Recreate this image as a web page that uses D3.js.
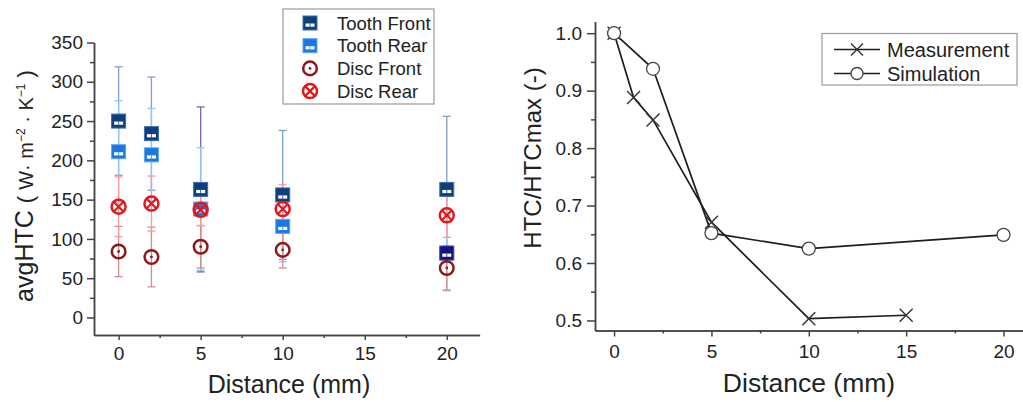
<!DOCTYPE html>
<html>
<head>
<meta charset="utf-8">
<script src="https://cdn.jsdelivr.net/npm/d3@7"></script>
<style>
  body { margin: 0; background: #fff; }
  text { font-family: "Liberation Sans", Arial, sans-serif; fill: #222; }
</style>
</head>
<body>
<div id="graph"></div>
<script>
// ---- left chart data: avgHTC with error bars ----
const distances = [0, 2, 5, 10, 20]
const toothFront = [250, 234, 163, 156, 163]
const toothFrontErr = [69, 72, 105, 82, 93]
const toothRear = [211, 207, 138, 116, 82]
const toothRearErr = [65, 59, 78, 45, 48]
const discFront = [84, 77, 90, 86, 63]
const discFrontErr = [32, 38, 27, 23, 28]
const discRear = [141, 145, 137, 138, 130]
const discRearErr = [38, 35, 20, 31, 28]
const leftYTicks = [0, 50, 100, 150, 200, 250, 300, 350]
const xTicks = [0, 5, 10, 15, 20]

// ---- right chart data: normalised HTC ----
const measX = [0, 1, 2, 5, 10, 15]
const measY = [1.0, 0.888, 0.849, 0.671, 0.503, 0.509]
const simX = [0, 2, 5, 10, 20]
const simY = [1.0, 0.938, 0.652, 0.625, 0.649]
const rightYTicks = [0.5, 0.6, 0.7, 0.8, 0.9, 1.0]

const svg = d3.select("#graph").append("svg")
    .attr("width", 1023)
    .attr("height", 402)

const AXIS_COLOR = "#444"

function styleAxis(g) {
    g.selectAll("path, line").attr("stroke", AXIS_COLOR).attr("stroke-width", 1.5)
    g.selectAll("text").attr("font-size", "19px").attr("fill", "#222")
        .attr("font-family", "Liberation Sans, Arial, sans-serif")
}

// ================= LEFT =================
const x1 = d3.scaleLinear().domain([-1.5, 22]).range([94, 479.6])
const y1 = d3.scaleLinear().domain([-22.3, 350]).range([335, 42.5])

svg.append("g").attr("transform", "translate(0,335)")
    .call(d3.axisBottom(x1).tickValues([2.5, 7.5, 12.5, 17.5]).tickSize(3).tickFormat("").tickSizeOuter(0))
    .call(styleAxis)
svg.append("g").attr("transform", "translate(0,335)")
    .call(d3.axisBottom(x1).tickValues(xTicks).tickSize(5).tickPadding(7).tickSizeOuter(0))
    .call(styleAxis)
svg.append("g").attr("transform", "translate(94,0)")
    .call(d3.axisLeft(y1).tickValues(d3.range(25, 350, 50)).tickSize(4).tickFormat("").tickSizeOuter(0))
    .call(styleAxis)
svg.append("g").attr("transform", "translate(94,0)")
    .call(d3.axisLeft(y1).tickValues(leftYTicks).tickSize(7).tickPadding(4).tickSizeOuter(0))
    .call(styleAxis)

svg.append("text")
    .attr("x", 289).attr("y", 393)
    .attr("text-anchor", "middle")
    .attr("font-size", "25px")
    .text("Distance (mm)")

const yTitle = svg.append("text")
    .attr("transform", "translate(33,186) rotate(-90)")
    .attr("text-anchor", "middle")
    .attr("font-size", "25px")
yTitle.append("tspan").text("avgHTC ")
yTitle.append("tspan").attr("font-size", "22px").text("( ")
yTitle.append("tspan").attr("font-size", "20px").text("W· m")
yTitle.append("tspan").attr("font-size", "12px").attr("dy", -8).text("−2")
yTitle.append("tspan").attr("font-size", "20px").attr("dy", 8).text(" · K")
yTitle.append("tspan").attr("font-size", "12px").attr("dy", -8).text("−1")
yTitle.append("tspan").attr("font-size", "22px").attr("dy", 8).text(" )")

const series = [
    { name: "Tooth Front", vals: toothFront, errs: toothFrontErr, bar: "#7d9fd0", kind: "tf" },
    { name: "Tooth Rear", vals: toothRear, errs: toothRearErr, bar: "#93c6f5", kind: "tr" },
    { name: "Disc Front", vals: discFront, errs: discFrontErr, bar: "#d58c8f", kind: "df" },
    { name: "Disc Rear", vals: discRear, errs: discRearErr, bar: "#f59c9c", kind: "dr" }
]

// error bars
const bars = svg.append("g")
series.forEach(s => {
    s.vals.forEach((v, i) => {
        const cx = x1(distances[i])
        const top = y1(v + s.errs[i]), bot = y1(v - s.errs[i])
        const col = (distances[i] === 5 && s.kind === "tf") ? "#6a6cc0" : s.bar
        bars.append("line").attr("x1", cx).attr("x2", cx).attr("y1", top).attr("y2", bot)
            .attr("stroke", col).attr("stroke-width", 1.3)
        ;[top, bot].forEach(yy => bars.append("line")
            .attr("x1", cx - 4).attr("x2", cx + 4).attr("y1", yy).attr("y2", yy)
            .attr("stroke", col).attr("stroke-width", 1.3))
    })
})

function drawMarker(g, kind, cx, cy, dist) {
    if (kind === "tf" || kind === "tr") {
        let fill = kind === "tf" ? "#0f3e7c" : "#1a78e0"
        let edge = kind === "tf" ? "#3d6cae" : "#5ea4f2"
        if (kind === "tr" && dist === 20) { fill = "#10157f"; edge = "#3a40a8" }
        g.append("rect").attr("x", cx - 7).attr("y", cy - 7).attr("width", 14).attr("height", 14)
            .attr("fill", fill).attr("stroke", edge).attr("stroke-width", 1)
        g.append("rect").attr("x", cx - 4.5).attr("y", cy + 0.5).attr("width", 9).attr("height", 3.2)
            .attr("fill", "#fff")
        g.append("line").attr("x1", cx).attr("x2", cx).attr("y1", cy + 0.5).attr("y2", cy + 3.7)
            .attr("stroke", fill).attr("stroke-width", 0.8)
    } else if (kind === "df") {
        g.append("circle").attr("cx", cx).attr("cy", cy).attr("r", 6.8)
            .attr("fill", "none").attr("stroke", "#8c1a1c").attr("stroke-width", 2.5)
        g.append("circle").attr("cx", cx).attr("cy", cy).attr("r", 1.4).attr("fill", "#8c1a1c")
    } else {
        g.append("circle").attr("cx", cx).attr("cy", cy).attr("r", 7)
            .attr("fill", "none").attr("stroke", "#e3181c").attr("stroke-width", 2.5)
        const d = 5
        g.append("path").attr("d", `M${cx - d},${cy - d}L${cx + d},${cy + d}M${cx - d},${cy + d}L${cx + d},${cy - d}`)
            .attr("stroke", "#e3181c").attr("stroke-width", 2.2)
    }
}

const markers = svg.append("g")
series.forEach(s => {
    s.vals.forEach((v, i) => drawMarker(markers, s.kind, x1(distances[i]), y1(v), distances[i]))
})

// legend left
const legL = svg.append("g")
legL.append("rect").attr("x", 283).attr("y", 9).attr("width", 151).attr("height", 95)
    .attr("fill", "#fff").attr("stroke", "#9a9a9a").attr("stroke-width", 1.2)
series.forEach((s, i) => {
    const yy = 23 + i * 22.7
    drawMarker(legL, s.kind, 310, yy, null)
    legL.append("text").attr("x", 337).attr("y", yy).attr("dy", "0.36em")
        .attr("font-size", "18.5px").text(s.name)
})

// ================= RIGHT =================
const x2 = d3.scaleLinear().domain([-0.98, 21]).range([595, 1023])
const y2 = d3.scaleLinear().domain([0.4825, 1.02]).range([330.5, 21.7])

svg.append("g").attr("transform", "translate(0,330.5)")
    .call(d3.axisBottom(x2).tickValues([2.5, 7.5, 12.5, 17.5]).tickSize(3).tickFormat("").tickSizeOuter(0))
    .call(styleAxis)
svg.append("g").attr("transform", "translate(0,330.5)")
    .call(d3.axisBottom(x2).tickValues(xTicks).tickSize(6).tickPadding(8).tickSizeOuter(0))
    .call(styleAxis)
svg.append("g").attr("transform", "translate(595,0)")
    .call(d3.axisLeft(y2).tickValues([0.55, 0.65, 0.75, 0.85, 0.95]).tickSize(4).tickFormat("").tickSizeOuter(0))
    .call(styleAxis)
svg.append("g").attr("transform", "translate(595,0)")
    .call(d3.axisLeft(y2).tickValues(rightYTicks).tickSize(8).tickPadding(5).tickFormat(d3.format(".1f")).tickSizeOuter(0))
    .call(styleAxis)

svg.append("text")
    .attr("x", 809).attr("y", 392)
    .attr("text-anchor", "middle")
    .attr("font-size", "26.5px")
    .text("Distance (mm)")
svg.append("text")
    .attr("transform", "translate(541,158) rotate(-90)")
    .attr("text-anchor", "middle")
    .attr("font-size", "24px")
    .text("HTC/HTCmax (-)")

const line = d3.line().x(d => x2(d[0])).y(d => y2(d[1]))
const measData = measX.map((v, i) => [v, measY[i]])
const simData = simX.map((v, i) => [v, simY[i]])

svg.append("path").datum(measData).attr("d", line)
    .attr("fill", "none").attr("stroke", "#1e1e1e").attr("stroke-width", 1.7)
svg.append("path").datum(simData).attr("d", line)
    .attr("fill", "none").attr("stroke", "#1e1e1e").attr("stroke-width", 1.7)

function crossPath(cx, cy, r) {
    return `M${cx - r},${cy - r}L${cx + r},${cy + r}M${cx - r},${cy + r}L${cx + r},${cy - r}`
}

svg.selectAll(".meas").data(measData).enter().append("path")
    .attr("d", d => crossPath(x2(d[0]), y2(d[1]), 6.5))
    .attr("stroke", "#333").attr("stroke-width", 1.4)
svg.selectAll(".sim").data(simData).enter().append("circle")
    .attr("cx", d => x2(d[0])).attr("cy", d => y2(d[1])).attr("r", 6.5)
    .attr("fill", "#fff").attr("stroke", "#444").attr("stroke-width", 1.3)

// legend right
const legR = svg.append("g")
legR.append("rect").attr("x", 822).attr("y", 33.5).attr("width", 195).attr("height", 51.5)
    .attr("fill", "#fff").attr("stroke", "#9a9a9a").attr("stroke-width", 1.2)
;[["Measurement", 49.5], ["Simulation", 73.5]].forEach(([name, yy], i) => {
    legR.append("line").attr("x1", 834).attr("x2", 880).attr("y1", yy).attr("y2", yy)
        .attr("stroke", "#1e1e1e").attr("stroke-width", 1.7)
    if (i === 0) {
        legR.append("path").attr("d", crossPath(857, yy, 6)).attr("stroke", "#333").attr("stroke-width", 1.4)
    } else {
        legR.append("circle").attr("cx", 857).attr("cy", yy).attr("r", 6)
            .attr("fill", "#fff").attr("stroke", "#444").attr("stroke-width", 1.3)
    }
    legR.append("text").attr("x", 887).attr("y", yy).attr("dy", "0.36em")
        .attr("font-size", "20px").text(name)
})
</script>
</body>
</html>
